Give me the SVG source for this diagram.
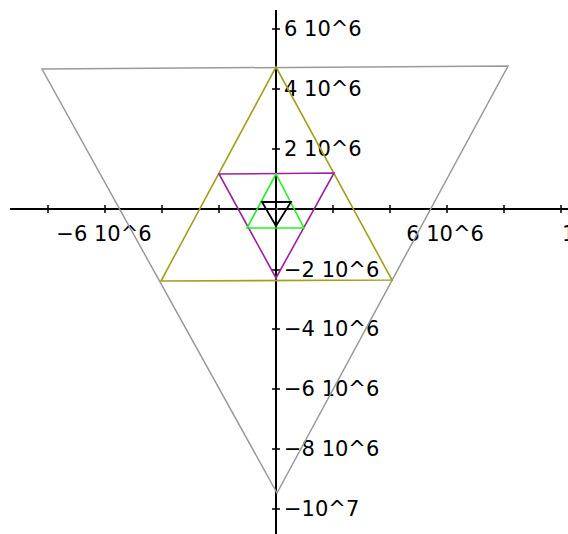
<svg xmlns="http://www.w3.org/2000/svg" width="568" height="534" viewBox="0 0 568 534">
<style>
.ax{stroke:#000;stroke-width:2;fill:none}
.tk{stroke:#000;stroke-width:1.5;fill:none}
.lbl{font-family:"DejaVu Sans",sans-serif;font-size:21px;fill:#000}
.xl{text-anchor:middle}
.tri{fill:none;stroke-linejoin:miter}
</style>
<rect width="568" height="534" fill="#fff"/>
<g id="axes">
<line class="ax" x1="10" y1="209" x2="568" y2="209"/>
<line class="ax" x1="276" y1="10" x2="276" y2="534"/>
<path class="tk" d="M48 205V213M105 205V213M162 205V213M219 205V213M333 205V213M390 205V213M447 205V213M504 205V213M561 205V213"/>
<path class="tk" d="M272 29H280M272 89H280M272 149H280M272 270H280M272 329H280M272 389H280M272 449H280M272 509H280"/>
</g>
<g id="labels">
<text class="lbl xl" x="104" y="241">−6 10^6</text>
<text class="lbl xl" x="445" y="241">6 10^6</text>
<text class="lbl" x="562" y="241">1</text>
<text class="lbl" x="284" y="36">6 10^6</text>
<text class="lbl" x="284" y="96">4 10^6</text>
<text class="lbl" x="284" y="156">2 10^6</text>
<text class="lbl" x="284" y="277">−2 10^6</text>
<text class="lbl" x="284" y="336">−4 10^6</text>
<text class="lbl" x="284" y="396">−6 10^6</text>
<text class="lbl" x="284" y="456">−8 10^6</text>
<text class="lbl" x="284" y="516">−10^7</text>
</g>
<g id="connectors">
<g id="tri-gray"><polygon class="tri" points="42,69 508,66 277,493" stroke="#9a9a9a" stroke-width="1.5"/></g>
<g id="tri-olive"><polygon class="tri" points="276,67 392,280 161,281" stroke="#a0a020" stroke-width="1.6"/></g>
<g id="tri-purple"><polygon class="tri" points="219,174 334,173 276,278" stroke="#a020a0" stroke-width="1.6"/></g>
<g id="tri-green"><polygon class="tri" points="276,174 304,228 247,228" stroke="#20f020" stroke-width="1.6"/></g>
<g id="tri-black"><polygon class="tri" points="262,202 291,202 276,226" stroke="#000" stroke-width="1.8"/></g>
<g id="tri-pink"><circle cx="277" cy="209" r="0.8" fill="#ff60ff"/></g>
</g>
</svg>
